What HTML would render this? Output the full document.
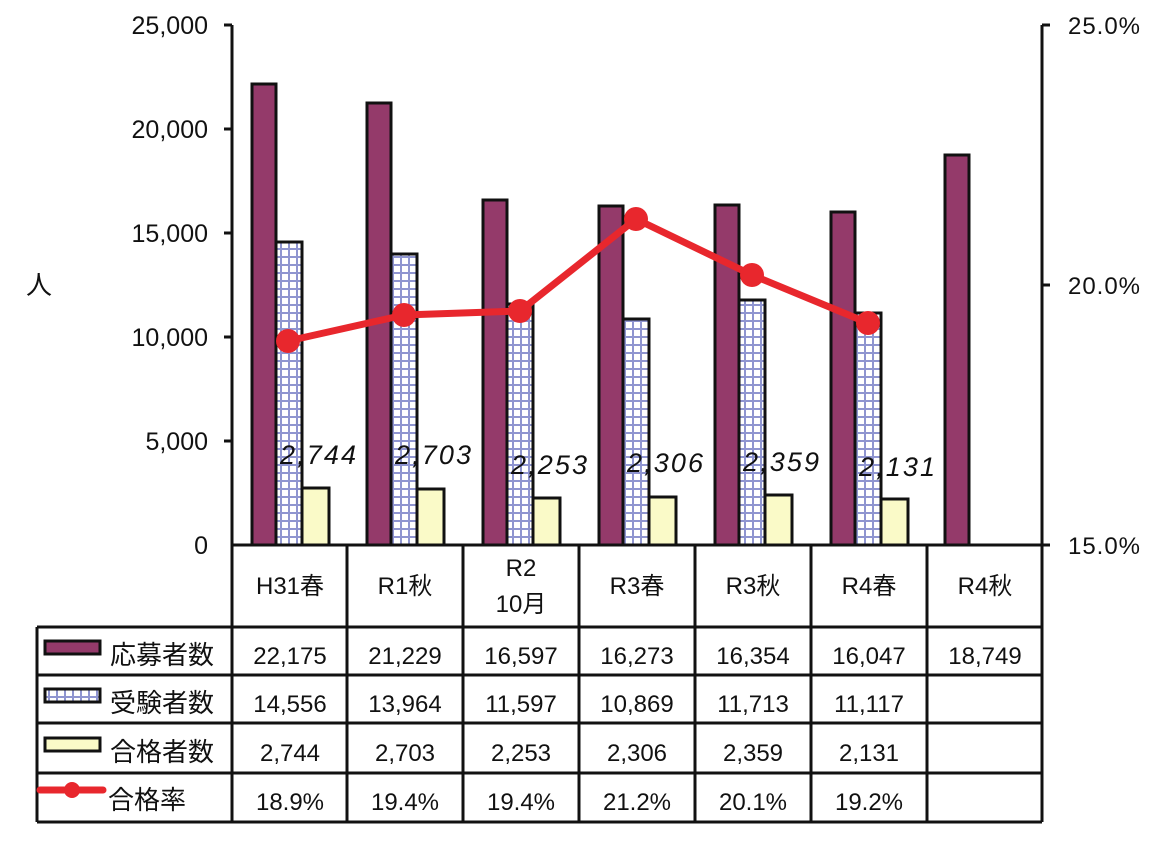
<!DOCTYPE html>
<html><head><meta charset="utf-8"><style>
body{margin:0;background:#fff}
svg text{font-family:"Liberation Sans","Noto Sans CJK JP",sans-serif;fill:#111}
</style></head><body>
<svg width="1163" height="845" viewBox="0 0 1163 845" xmlns="http://www.w3.org/2000/svg">
<defs>
<pattern id="grid" width="8" height="8" patternUnits="userSpaceOnUse" x="0" y="0">
<rect width="8" height="8" fill="#fff"/>
<path d="M0 1H8M1 0V8" stroke="#8f95d0" stroke-width="2"/>
</pattern>
</defs>
<g stroke="#111" stroke-width="3">
<line x1="232" y1="25" x2="232" y2="822"/>
<line x1="1042" y1="25" x2="1042" y2="545"/>
<line x1="232" y1="545" x2="1042" y2="545"/>
</g>
<g stroke="#111" stroke-width="3">
<line x1="224" y1="25" x2="232" y2="25"/><line x1="224" y1="129" x2="232" y2="129"/><line x1="224" y1="233" x2="232" y2="233"/><line x1="224" y1="337" x2="232" y2="337"/><line x1="224" y1="441" x2="232" y2="441"/>
<line x1="1042" y1="25" x2="1050" y2="25"/><line x1="1042" y1="285" x2="1050" y2="285"/><line x1="1042" y1="545" x2="1050" y2="545"/>
</g>
<g font-size="25" text-anchor="end">
<text x="208" y="34">25,000</text><text x="208" y="138">20,000</text><text x="208" y="242">15,000</text><text x="208" y="346">10,000</text><text x="208" y="450">5,000</text><text x="208" y="554">0</text>
</g>
<g font-size="24">
<text x="1068" y="34" textLength="72">25.0%</text><text x="1068" y="294" textLength="72">20.0%</text><text x="1068" y="554" textLength="72">15.0%</text>
</g>
<text x="26" y="294" font-size="26">人</text>
<g stroke="#111" stroke-width="3">
<rect x="252" y="84" width="24" height="461" fill="#943a6a"/><rect x="276" y="242" width="26" height="303" fill="url(#grid)"/><rect x="302" y="488" width="27" height="57" fill="#fafac8"/>
<rect x="367" y="103" width="24" height="442" fill="#943a6a"/><rect x="391" y="254" width="26" height="291" fill="url(#grid)"/><rect x="417" y="489" width="27" height="56" fill="#fafac8"/>
<rect x="483" y="200" width="24" height="345" fill="#943a6a"/><rect x="507" y="304" width="26" height="241" fill="url(#grid)"/><rect x="533" y="498" width="27" height="47" fill="#fafac8"/>
<rect x="599" y="206" width="24" height="339" fill="#943a6a"/><rect x="623" y="319" width="26" height="226" fill="url(#grid)"/><rect x="649" y="497" width="27" height="48" fill="#fafac8"/>
<rect x="715" y="205" width="24" height="340" fill="#943a6a"/><rect x="739" y="300" width="26" height="245" fill="url(#grid)"/><rect x="765" y="495" width="27" height="50" fill="#fafac8"/>
<rect x="831" y="212" width="24" height="333" fill="#943a6a"/><rect x="855" y="313" width="26" height="232" fill="url(#grid)"/><rect x="881" y="499" width="27" height="46" fill="#fafac8"/>
<rect x="945" y="155" width="24" height="390" fill="#943a6a"/>
</g>
<polyline points="288,341 404,315 520,311 636,219 752,275 868,323" fill="none" stroke="#e8272d" stroke-width="7" stroke-linejoin="round"/>
<g fill="#e8272d"><circle cx="288" cy="341" r="12"/><circle cx="404" cy="315" r="12"/><circle cx="520" cy="311" r="12"/><circle cx="636" cy="219" r="12"/><circle cx="752" cy="275" r="12"/><circle cx="868" cy="323" r="12"/></g>
<g font-size="27" font-style="italic" font-family="'DejaVu Sans',sans-serif" text-anchor="middle">
<text x="318" y="464" textLength="76">2,744</text><text x="433" y="464" textLength="76">2,703</text><text x="549" y="474" textLength="76">2,253</text><text x="665" y="472" textLength="76">2,306</text><text x="781" y="471" textLength="76">2,359</text><text x="897" y="476" textLength="76">2,131</text>
</g>
<g stroke="#111" stroke-width="3">
<line x1="37" y1="627" x2="1042" y2="627"/><line x1="37" y1="675" x2="1042" y2="675"/><line x1="37" y1="723" x2="1042" y2="723"/><line x1="37" y1="773" x2="1042" y2="773"/><line x1="37" y1="822" x2="1042" y2="822"/>
<line x1="37" y1="627" x2="37" y2="822"/>
<line x1="347" y1="545" x2="347" y2="822"/><line x1="463" y1="545" x2="463" y2="822"/><line x1="579" y1="545" x2="579" y2="822"/><line x1="695" y1="545" x2="695" y2="822"/><line x1="811" y1="545" x2="811" y2="822"/><line x1="927" y1="545" x2="927" y2="822"/><line x1="1042" y1="545" x2="1042" y2="822"/>
</g>
<g font-size="24" text-anchor="middle">
<text x="290" y="594">H31春</text><text x="405" y="594">R1秋</text><text x="521" y="576">R2</text><text x="521" y="612">10月</text><text x="637" y="594">R3春</text><text x="753" y="594">R3秋</text><text x="869" y="594">R4春</text><text x="985" y="594">R4秋</text>
<text x="290" y="664">22,175</text><text x="405" y="664">21,229</text><text x="521" y="664">16,597</text><text x="637" y="664">16,273</text><text x="753" y="664">16,354</text><text x="869" y="664">16,047</text><text x="985" y="664">18,749</text>
<text x="290" y="712">14,556</text><text x="405" y="712">13,964</text><text x="521" y="712">11,597</text><text x="637" y="712">10,869</text><text x="753" y="712">11,713</text><text x="869" y="712">11,117</text>
<text x="290" y="761">2,744</text><text x="405" y="761">2,703</text><text x="521" y="761">2,253</text><text x="637" y="761">2,306</text><text x="753" y="761">2,359</text><text x="869" y="761">2,131</text>
<text x="290" y="810">18.9%</text><text x="405" y="810">19.4%</text><text x="521" y="810">19.4%</text><text x="637" y="810">21.2%</text><text x="753" y="810">20.1%</text><text x="869" y="810">19.2%</text>
</g>
<g stroke="#111" stroke-width="3">
<rect x="45" y="641" width="55" height="13" fill="#943a6a"/>
<rect x="45" y="689" width="55" height="13" fill="url(#grid)"/>
<rect x="45" y="738" width="55" height="13" fill="#fafac8"/>
</g>
<line x1="40" y1="790" x2="103" y2="790" stroke="#e8272d" stroke-width="7" stroke-linecap="round"/>
<circle cx="72" cy="790" r="8" fill="#e8272d"/>
<g font-size="26">
<text x="110" y="664">応募者数</text><text x="110" y="712">受験者数</text><text x="110" y="761">合格者数</text><text x="108" y="809">合格率</text>
</g>
</svg>
</body></html>
